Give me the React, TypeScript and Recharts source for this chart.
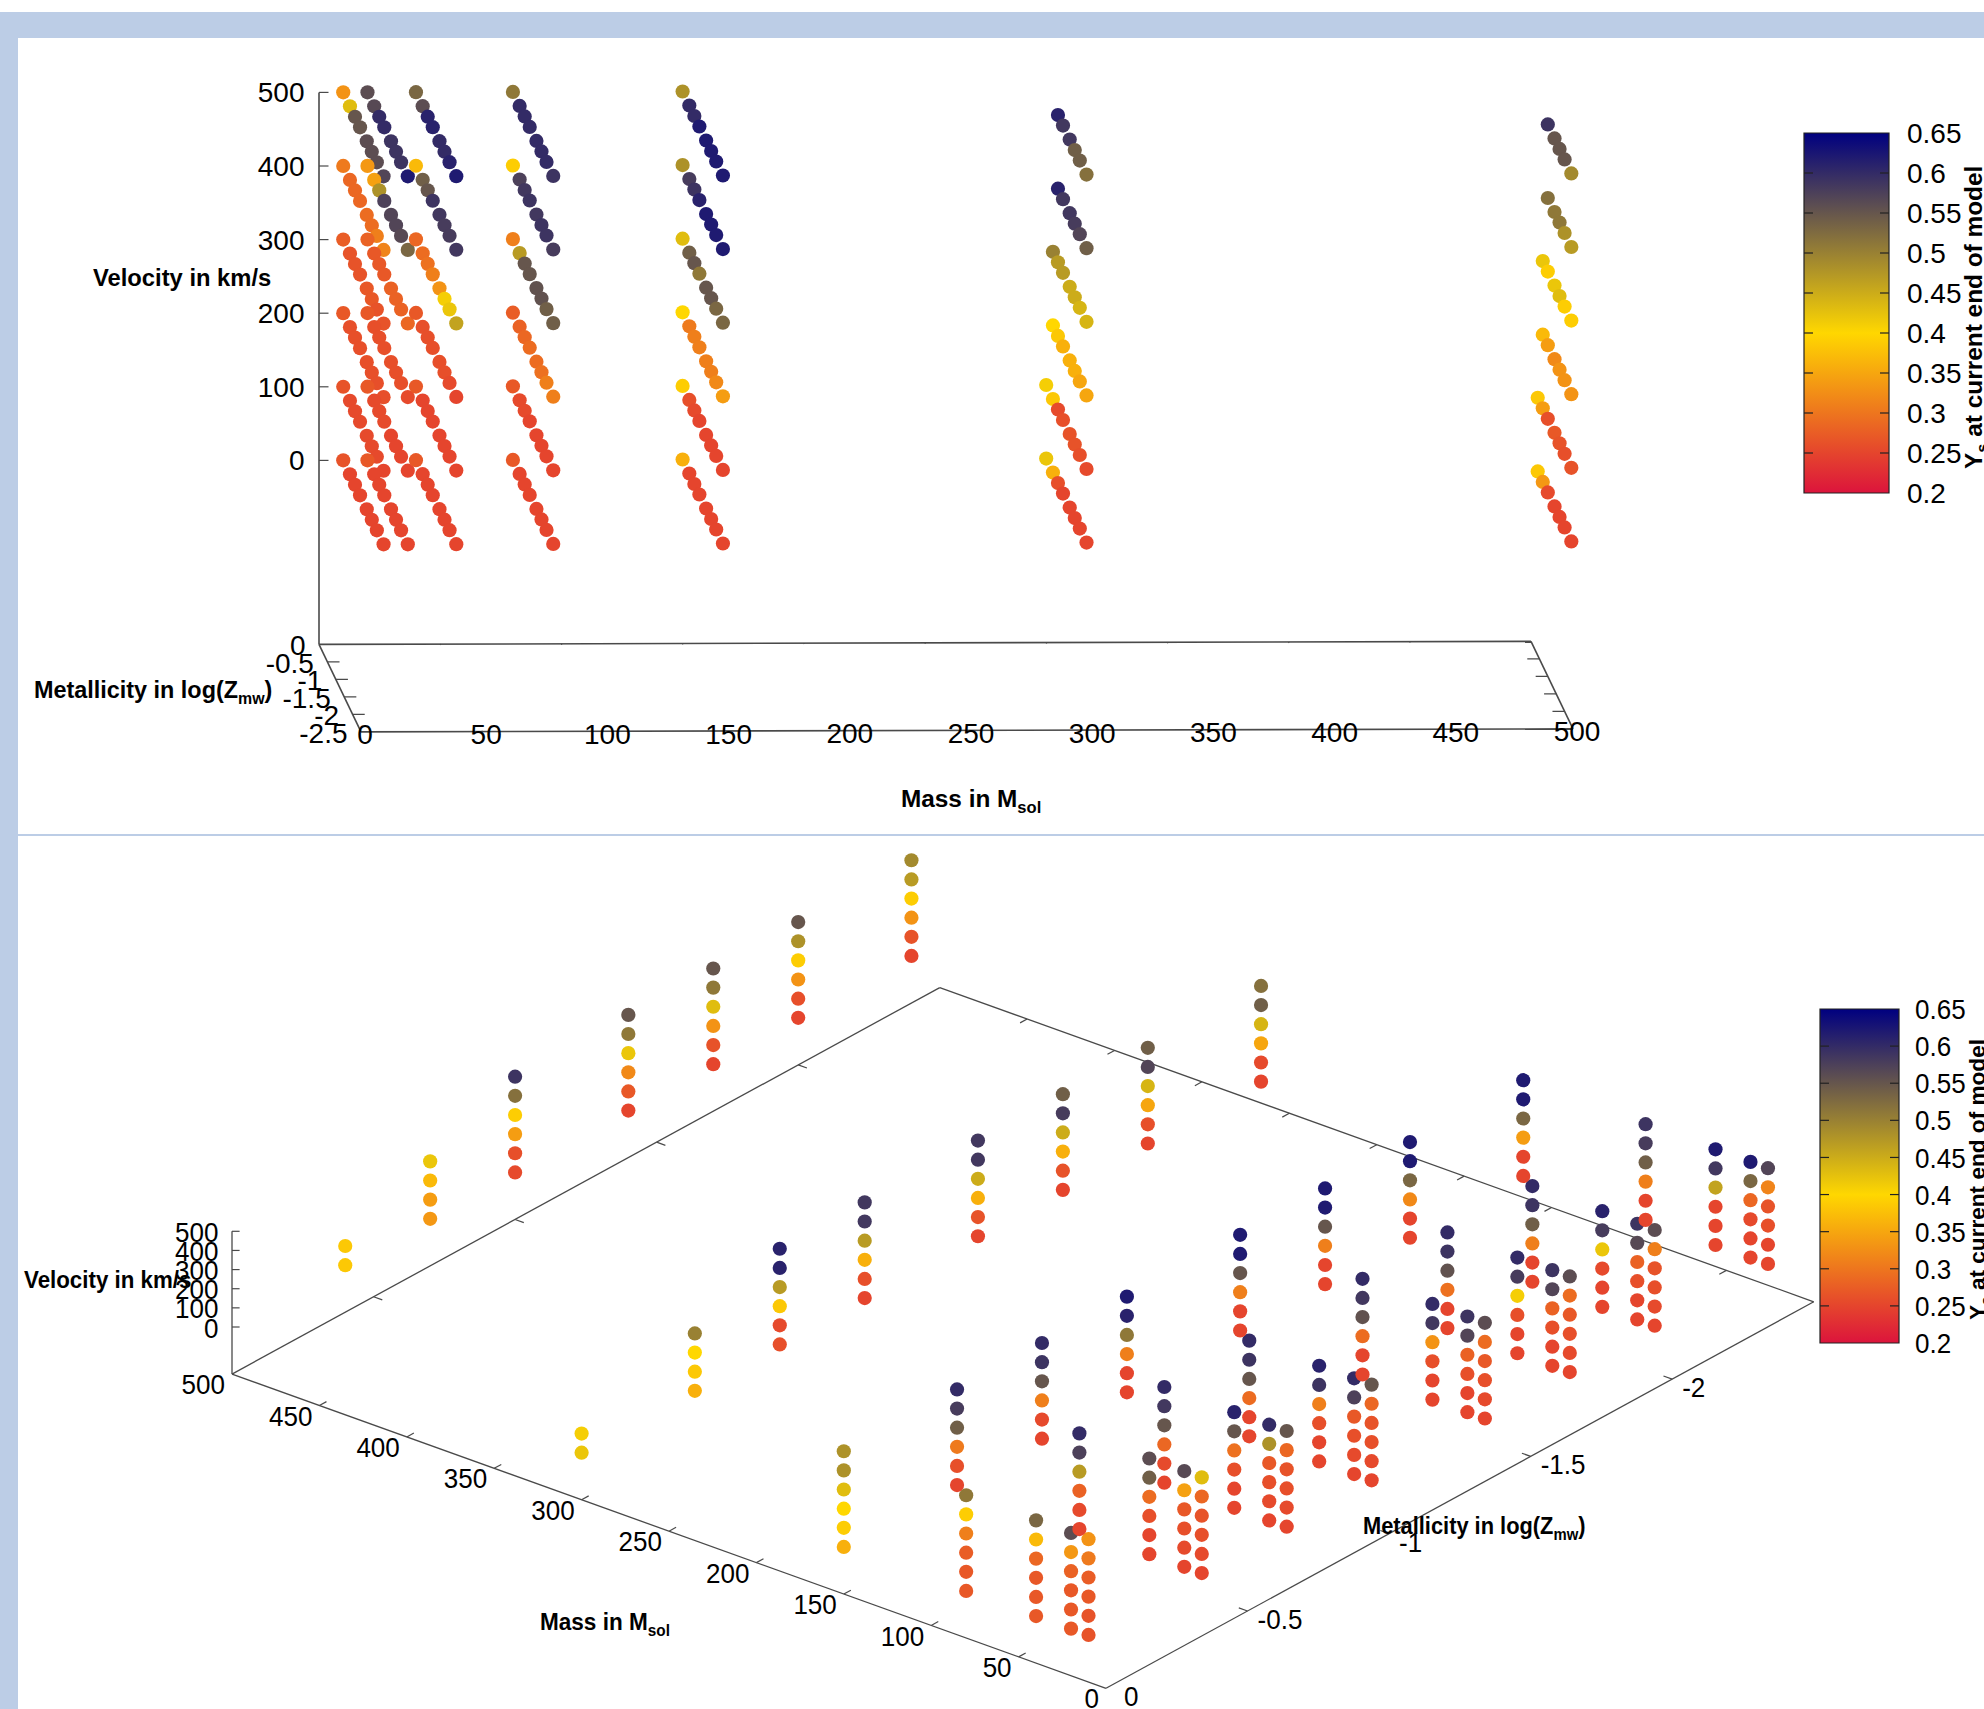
import { ReferenceArea, ReferenceLine, Scatter, ScatterChart, XAxis, YAxis } from "recharts";

const WIDTH = 1984;
const HEIGHT = 1709;

const MASSES = [10, 20, 40, 80, 150, 300, 500];
const METALLICITIES = [0, -0.4, -0.7, -1, -1.4, -1.7, -2, -2.4];
const VELOCITIES = [0, 100, 200, 300, 400, 500];

const MASS_TICKS = [0, 50, 100, 150, 200, 250, 300, 350, 400, 450, 500];
const METAL_TICKS = [0, -0.5, -1, -1.5, -2, -2.5];
const YS_TICKS = [0.2, 0.25, 0.3, 0.35, 0.4, 0.45, 0.5, 0.55, 0.6, 0.65];

// Ys per velocity row (0..500), per metallicity column
const n = null;
const YS_M10 = [
  [0.265, 0.25, 0.25, 0.25, 0.25, 0.25, 0.25, 0.25],
  [0.265, 0.255, 0.255, 0.255, 0.255, 0.255, 0.255, 0.25],
  [0.27, 0.26, 0.26, 0.26, 0.26, 0.26, 0.26, 0.26],
  [0.275, 0.265, 0.265, 0.265, 0.27, 0.27, 0.265, 0.265],
  [0.305, 0.285, 0.285, 0.285, 0.29, 0.29, 0.31, 0.315],
  [0.33, 0.43, 0.55, 0.55, 0.56, 0.56, 0.56, 0.57],
];
const YS_M20 = [
  [0.27, 0.25, 0.25, 0.25, 0.25, 0.25, 0.25, 0.25],
  [0.27, 0.255, 0.255, 0.255, 0.25, 0.25, 0.25, 0.25],
  [0.27, 0.26, 0.26, 0.26, 0.26, 0.26, 0.26, 0.255],
  [0.28, 0.27, 0.27, 0.27, 0.28, 0.28, 0.28, 0.285],
  [0.335, 0.345, 0.48, 0.575, 0.57, 0.57, 0.565, 0.53],
  [0.56, 0.565, 0.6, 0.6, 0.59, 0.59, 0.59, 0.62],
];
const YS_M40 = [
  [0.27, 0.25, 0.25, 0.25, 0.25, 0.25, 0.25, 0.25],
  [0.27, 0.25, 0.25, 0.25, 0.25, 0.25, 0.25, 0.25],
  [0.27, 0.26, 0.26, 0.26, 0.26, 0.26, 0.255, 0.25],
  [0.285, 0.29, 0.295, 0.31, 0.33, 0.41, 0.42, 0.46],
  [0.37, 0.54, 0.55, 0.59, 0.585, 0.58, 0.58, 0.585],
  [0.53, 0.56, 0.61, 0.61, 0.6, 0.6, 0.61, 0.62],
];
const YS_M80 = [
  [0.27, 0.25, 0.25, 0.25, 0.25, 0.25, 0.25, 0.25],
  [0.27, 0.255, 0.255, 0.25, 0.25, 0.25, 0.25, 0.25],
  [0.275, 0.28, 0.285, 0.29, 0.29, 0.295, 0.31, 0.31],
  [0.31, 0.47, 0.55, 0.55, 0.555, 0.555, 0.54, 0.54],
  [0.39, 0.575, 0.585, 0.59, 0.585, 0.59, 0.59, 0.58],
  [0.51, 0.6, 0.6, 0.6, 0.6, 0.6, 0.6, 0.59],
];
const YS_M150 = [
  [0.36, 0.25, 0.25, 0.25, 0.25, 0.25, 0.25, 0.25],
  [0.39, 0.26, 0.255, 0.25, 0.25, 0.25, 0.25, 0.25],
  [0.4, 0.305, 0.31, 0.31, 0.31, 0.31, 0.32, 0.34],
  [0.43, 0.54, 0.55, 0.51, 0.55, 0.55, 0.53, 0.53],
  [0.48, 0.58, 0.59, 0.61, 0.62, 0.62, 0.62, 0.62],
  [0.48, 0.6, 0.6, 0.62, 0.62, 0.62, 0.62, 0.62],
];
const YS_M300 = [
  [0.42, 0.36, 0.26, 0.25, 0.25, 0.25, 0.25, 0.25],
  [0.41, 0.385, 0.255, 0.26, 0.265, 0.265, 0.26, 0.255],
  [n, 0.4, 0.385, 0.36, 0.36, 0.36, 0.35, 0.35],
  [n, 0.5, 0.47, 0.47, 0.45, 0.45, 0.44, 0.44],
  [n, n, 0.61, 0.585, 0.585, 0.58, 0.57, 0.54],
  [n, n, 0.61, 0.585, 0.585, 0.54, 0.54, 0.52],
];
const YS_M500 = [
  [n, 0.385, 0.335, 0.255, 0.25, 0.25, 0.25, 0.25],
  [n, 0.385, 0.34, 0.26, 0.27, 0.265, 0.26, 0.265],
  [n, n, 0.37, 0.34, 0.32, 0.33, 0.33, 0.33],
  [n, n, 0.42, 0.39, 0.42, 0.43, 0.39, 0.39],
  [n, n, n, 0.52, 0.51, 0.51, 0.48, 0.47],
  [n, n, n, 0.59, 0.55, 0.55, 0.55, 0.49],
];
const YS_TABLES = [YS_M10, YS_M20, YS_M40, YS_M80, YS_M150, YS_M300, YS_M500];

// fitted gnuplot view: screen = origin + mass*m + metallicity*z + velocity*v
const TOP_VIEW = { x0: 319, mx: 2.424, zx: -16.8, y0: 460.4, my: -0.006, zy: -35, vy: -0.736, floor: -250 };
const BOTTOM_VIEW = { x0: 1106, mx: -1.748, zx: -283.1, y0: 1641.2, my: -0.6284, zy: 154.6, vy: -0.1914, floor: -246 };

type View = typeof TOP_VIEW;
const project = (w: View, m: number, z: number, v: number) => ({
  x: w.x0 + w.mx * m + w.zx * z,
  y: w.y0 + w.my * m + w.zy * z + w.vy * v,
});

const CRIMSON = [220, 20, 60];
const GOLD = [255, 215, 0];
const NAVY = [0, 0, 128];
const mix = (a: number[], b: number[], t: number) =>
  `rgb(${a.map((c, i) => Math.round(c + (b[i] - c) * t)).join(",")})`;
const ysColor = (ys: number) =>
  ys < 0.4 ? mix(CRIMSON, GOLD, (ys - 0.2) / 0.2) : mix(GOLD, NAVY, (ys - 0.4) / 0.25);

function buildDots(w: View) {
  const dots: { x: number; y: number; fill: string }[] = [];
  MASSES.forEach((m, mi) => {
    VELOCITIES.forEach((v, vi) => {
      METALLICITIES.forEach((z, zi) => {
        const ys = YS_TABLES[mi][vi][zi];
        if (ys !== null) dots.push({ ...project(w, m, z, v), fill: ysColor(ys) });
      });
    });
  });
  return dots;
}

const FONT = "'Liberation Sans', Arial, sans-serif";
const AXIS = "#4a4a4a";

type Label = {
  x: number; y: number; label: string; sub?: string; tail?: string;
  anchor?: string; size?: number; bold?: boolean; sx?: number; rotate?: boolean;
};

function DotShape(p: any) {
  return <circle cx={p.cx} cy={p.cy} r={7.1} fill={p.payload.fill} />;
}

function LabelShape(p: any) {
  const d: Label = p.payload;
  const size = d.size ?? 28;
  const tf = d.rotate
    ? `translate(${p.cx},${p.cy}) rotate(-90)`
    : `translate(${p.cx},${p.cy}) scale(${d.sx ?? 1},1)`;
  return (
    <text
      transform={tf}
      textAnchor={d.anchor ?? "start"}
      dy="0.36em"
      fontFamily={FONT}
      fontSize={size}
      fontWeight={d.bold ? 700 : 400}
      fill="#000"
    >
      {d.label}
      {d.sub && <tspan dy={size * 0.26} fontSize={size * 0.68}>{d.sub}</tspan>}
      {d.tail && <tspan dy={-size * 0.26}>{d.tail}</tspan>}
    </text>
  );
}

const fmt = (z: number) => String(z);

function topLabels(): Label[] {
  const w = TOP_VIEW;
  const out: Label[] = [];
  VELOCITIES.forEach(v => {
    const p = project(w, 0, 0, v);
    out.push({ x: p.x - 14.5, y: p.y, label: fmt(v), anchor: "end" });
  });
  METAL_TICKS.forEach(z => {
    const p = project(w, 0, z, w.floor);
    out.push({ x: p.x - 13.5, y: p.y + 1, label: fmt(z), anchor: "end" });
  });
  MASS_TICKS.forEach(m => {
    const p = project(w, m, -2.5, w.floor);
    out.push({ x: p.x + 4, y: p.y + 2.5, label: fmt(m), anchor: "middle" });
  });
  out.push({ x: 93, y: 277, label: "Velocity in km/s", size: 24, bold: true, sx: 0.99 });
  out.push({ x: 34, y: 689, label: "Metallicity in log(Z", sub: "mw", tail: ")", size: 24, bold: true, sx: 0.975 });
  out.push({ x: 901, y: 798, label: "Mass in M", sub: "sol", size: 24, bold: true, sx: 1.015 });
  return out;
}

function bottomLabels(): Label[] {
  const w = BOTTOM_VIEW;
  const sx = 0.93;
  const out: Label[] = [];
  VELOCITIES.forEach(v => {
    const p = project(w, 500, 0, v);
    out.push({ x: p.x - 13.5, y: p.y + 0.5, label: fmt(v), anchor: "end", sx });
  });
  MASS_TICKS.forEach(m => {
    const p = project(w, m, 0, w.floor);
    out.push({ x: p.x - 7, y: p.y + 10, label: fmt(m), anchor: "end", sx });
  });
  METAL_TICKS.slice(0, 5).forEach(z => {
    const p = project(w, 0, z, w.floor);
    out.push({ x: p.x + (z === 0 ? 18 : 10), y: p.y + 8, label: fmt(z), sx });
  });
  out.push({ x: 24, y: 1279, label: "Velocity in km/s", size: 24, bold: true, sx });
  out.push({ x: 540, y: 1621, label: "Mass in M", sub: "sol", size: 24, bold: true, sx: 0.94 });
  out.push({ x: 1363, y: 1525, label: "Metallicity in log(Z", sub: "mw", tail: ")", size: 24, bold: true, sx: 0.91 });
  return out;
}

// colour bars
const TOP_BAR = { x1: 1804, x2: 1889, y1: 133, y2: 493, labelX: 1907, titleX: 1973, titleY: 469, titleSize: 24.4, sx: 1 };
const BOTTOM_BAR = { x1: 1820, x2: 1899, y1: 1009, y2: 1343, labelX: 1915, titleX: 1977, titleY: 1320, titleSize: 22.6, sx: 0.93 };
type Bar = typeof TOP_BAR;
const barY = (b: Bar, ys: number) => b.y1 + ((0.65 - ys) / 0.45) * (b.y2 - b.y1);

function barLabels(b: Bar): Label[] {
  const out: Label[] = YS_TICKS.map(ys => ({ x: b.labelX, y: barY(b, ys), label: fmt(ys), sx: b.sx }));
  out.push({ x: b.titleX, y: b.titleY, label: "Y", sub: "s", tail: " at current end of model", size: b.titleSize, bold: true, rotate: true });
  return out;
}

function seg(key: string, a: { x: number; y: number }, b: { x: number; y: number }, width = 1.5, color = AXIS) {
  return (
    <ReferenceLine
      key={key}
      segment={[a, b]}
      stroke={color}
      strokeWidth={width}
      ifOverflow="visible"
    />
  );
}

function viewAxes(id: string, w: View, velAtFar: number, velTick: number, width: number) {
  const p = (m: number, z: number, v = w.floor) => project(w, m, z, v);
  const lines = [
    seg(`${id}-m0`, p(0, 0), p(500, 0), width),
    seg(`${id}-m1`, p(0, -2.5), p(500, -2.5), width),
    seg(`${id}-z0`, p(0, 0), p(0, -2.5), width),
    seg(`${id}-z1`, p(500, 0), p(500, -2.5), width),
    seg(`${id}-v`, p(velAtFar, 0, 500), p(velAtFar, 0), width),
  ];
  MASS_TICKS.slice(1, -1).forEach(m => {
    lines.push(seg(`${id}-mt${m}`, p(m, 0), p(m, -0.025), 1.2));
    lines.push(seg(`${id}-mb${m}`, p(m, -2.5), p(m, -2.475), 1.2));
  });
  METAL_TICKS.slice(1, -1).forEach(z => {
    lines.push(seg(`${id}-zt${z}`, p(0, z), p(5, z), 1.2));
    lines.push(seg(`${id}-zb${z}`, p(500, z), p(495, z), 1.2));
  });
  VELOCITIES.forEach(v => {
    const a = p(velAtFar, 0, v);
    lines.push(seg(`${id}-vt${v}`, a, { x: a.x + velTick, y: a.y }, 1.2));
  });
  return lines;
}

function barParts(id: string, b: Bar) {
  return [
    <ReferenceArea
      key={`${id}-bar`}
      x1={b.x1} x2={b.x2} y1={b.y1} y2={b.y2}
      fill="url(#ysBar)" fillOpacity={1}
      stroke="#222" strokeWidth={1.2}
      ifOverflow="visible"
    />,
    ...YS_TICKS.slice(1, -1).flatMap(ys => {
      const y = barY(b, ys);
      return [
        seg(`${id}-l${ys}`, { x: b.x1, y }, { x: b.x1 + 9, y }, 1.2, "#222"),
        seg(`${id}-r${ys}`, { x: b.x2 - 9, y }, { x: b.x2, y }, 1.2, "#222"),
      ];
    }),
  ];
}

const topDots = buildDots(TOP_VIEW);
const bottomDots = buildDots(BOTTOM_VIEW);
const allLabels = [...topLabels(), ...bottomLabels(), ...barLabels(TOP_BAR), ...barLabels(BOTTOM_BAR)];

export default function App() {
  return (
    <div style={{ position: "absolute", left: 0, top: 0, width: WIDTH, height: HEIGHT, background: "#fff", overflow: "hidden" }}>
      <div style={{ position: "absolute", left: 0, top: 12, width: WIDTH, height: 26, background: "#bccde6" }} />
      <div style={{ position: "absolute", left: 0, top: 12, width: 18, height: HEIGHT, background: "#bccde6" }} />
      <div style={{ position: "absolute", left: 18, top: 834, width: WIDTH, height: 2, background: "#bccde6" }} />
      <div style={{ position: "absolute", left: 0, top: 0 }}>
        <ScatterChart width={WIDTH} height={HEIGHT} margin={{ top: 0, right: 0, bottom: 0, left: 0 }}>
          <defs>
            <linearGradient id="ysBar" x1="0" y1="0" x2="0" y2="1">
              <stop offset="0" stopColor="rgb(0,0,128)" />
              <stop offset="0.5556" stopColor="rgb(255,215,0)" />
              <stop offset="1" stopColor="rgb(220,20,60)" />
            </linearGradient>
          </defs>
          <XAxis type="number" dataKey="x" domain={[0, WIDTH]} hide allowDataOverflow />
          <YAxis type="number" dataKey="y" domain={[0, HEIGHT]} reversed hide allowDataOverflow />
          {viewAxes("t", TOP_VIEW, 0, 9.5, 1.6)}
          {viewAxes("b", BOTTOM_VIEW, 500, 7.6, 1.3)}
          {barParts("tb", TOP_BAR)}
          {barParts("bb", BOTTOM_BAR)}
          <Scatter data={topDots} shape={DotShape} isAnimationActive={false} />
          <Scatter data={bottomDots} shape={DotShape} isAnimationActive={false} />
          <Scatter data={allLabels} shape={LabelShape} isAnimationActive={false} />
        </ScatterChart>
      </div>
    </div>
  );
}
